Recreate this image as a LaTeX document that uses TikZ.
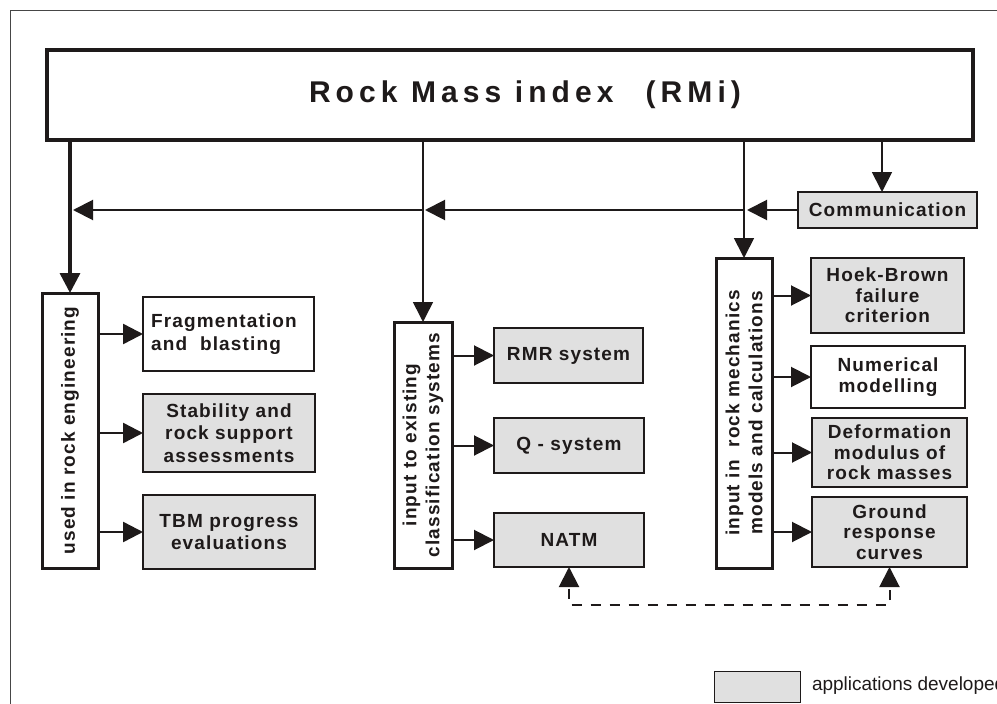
\documentclass[tikz,border=0pt]{standalone}
\usepackage{fontspec}
\setmainfont{Liberation Sans}
\newfontfamily\bx{Liberation Sans}[LetterSpace=6]
\newfontfamily\tx{Liberation Sans}[LetterSpace=17]
\usetikzlibrary{arrows.meta}
\definecolor{boxgray}{RGB}{224,224,224}
\definecolor{ink}{RGB}{30,26,26}
\definecolor{framec}{RGB}{70,70,70}
\begin{document}
\begin{tikzpicture}[x=1pt,y=-1pt,
  every node/.style={inner sep=0pt, outer sep=0pt},
  lbl/.style={font=\bx\bfseries\fontsize{19}{22.5}\selectfont, text=ink, align=center},
  box/.style={draw=ink, line width=1.5pt, rectangle, lbl},
  appbox/.style={box, fill=boxgray},
  rbox/.style={lbl, font=\bx\bfseries\fontsize{19}{20.5}\selectfont},
  vbox/.style={draw=ink, line width=3pt, fill=white, rectangle},
  vtext/.style={lbl, rotate=90, font=\bx\bfseries\fontsize{19}{23}\selectfont},
  tipA/.style={-{Triangle[length=20pt,width=20pt]}},
  conn/.style={draw=ink, line width=2pt, tipA},
]
\useasboundingbox (0,0) rectangle (997,704);
% outer frame (clipped)
\coordinate (fbl) at (10,704);
\coordinate (ftl) at (10,10);
\coordinate (ftr) at (997,10);
\draw[framec, line width=1pt] (fbl) -- (ftl) -- (ftr);

% main box
\node[draw=ink, line width=4pt, minimum width=926, minimum height=90] (rmi) at (510,95) {};
\node[font=\tx\bfseries\fontsize{30}{34}\selectfont, text=ink] (rmitext) at (525,95) {Rock Mass index\hspace{32pt}(RMi)};

% communication
\node[appbox, line width=2pt, minimum width=179, minimum height=36] (comm) at (887.5,210) {Communication};

% vertical boxes
\node[vbox, minimum width=56, minimum height=275] (used) at (70,430.5) {};
\node[vtext] (usedt) at (used.center) {used in rock engineering};
\node[vbox, minimum width=58, minimum height=246] (input) at (423,445) {};
\node[vtext] (inputt) at (input.center) {input to existing\\classification systems};
\node[vbox, minimum width=56, minimum height=310] (mech) at (744,413) {};
\node[vtext] (mecht) at (mech.center) {input in~~rock mechanics\\models and calculations};

% left column
\node[box, fill=white, minimum width=171, minimum height=74, align=left] (frag) at (228.5,334) {\hspace*{-9pt}Fragmentation\\\hspace*{-9pt}and~~blasting};
\node[appbox, minimum width=172, minimum height=78] (stab) at (229,433) {Stability and\\rock support\\assessments};
\node[appbox, minimum width=172, minimum height=74] (tbm) at (229,532) {TBM progress\\evaluations};

% middle column
\node[appbox, minimum width=149, minimum height=55] (rmr) at (568.5,355.5) {RMR system};
\node[appbox, minimum width=150, minimum height=55] (qsys) at (569,445.5) {Q - system};
\node[appbox, minimum width=150, minimum height=54] (natm) at (569,540) {NATM};

% right column
\node[appbox, rbox, minimum width=153, minimum height=75] (hb) at (887.5,295.5) {Hoek-Brown\\failure\\criterion};
\node[box, rbox, fill=white, minimum width=154, minimum height=62] (num) at (888,377) {Numerical\\modelling};
\node[appbox, rbox, minimum width=155, minimum height=69] (def) at (889.5,452.5) {Deformation\\modulus of\\rock masses};
\node[appbox, rbox, minimum width=155, minimum height=70] (grd) at (889.5,532) {Ground\\response\\curves};

% legend
\node[draw=ink, line width=1pt, fill=boxgray, minimum width=86, minimum height=31] (leg) at (757,686.5) {};
\node[anchor=west, font=\fontsize{19}{22}\selectfont, text=ink] (legt) at (812,686) {applications developed};

% connectors from main box
\draw[conn, line width=3.5pt] (rmi.south -| used) -- (used.north);
\draw[conn, line width=1.6pt] (rmi.south -| input) -- (input.north);
\draw[conn, line width=1.8pt] (rmi.south -| mech) -- (mech.north);
\coordinate (cx) at (882,210);
\draw[conn, line width=1.8pt] (rmi.south -| cx) -- (comm.north -| cx);

% horizontal feed line from communication
\coordinate (h1) at (747,210);
\coordinate (h2) at (425,210);
\coordinate (h3) at (73,210);
\draw[conn] (comm.west) -- (h1);
\draw[conn] (mech.north |- h1) -- (h2);
\draw[conn] (input.north |- h2) -- (h3);

% branch arrows
\draw[conn, line width=2.5pt] (used.east |- frag.west) -- (frag.west);
\draw[conn, line width=2.5pt] (used.east |- stab.west) -- (stab.west);
\draw[conn, line width=2.5pt] (used.east |- tbm.west) -- (tbm.west);
\draw[conn] (input.east |- rmr.west) -- (rmr.west);
\draw[conn] (input.east |- qsys.west) -- (qsys.west);
\draw[conn] (input.east |- natm.west) -- (natm.west);
\draw[conn] (mech.east |- hb.west) -- (hb.west);
\draw[conn] (mech.east |- num.west) -- (num.west);
\draw[conn] (mech.east |- def.west) -- (def.west);
\draw[conn] (mech.east |- grd.west) -- (grd.west);

% dashed link
\coordinate (dl) at (569,605);
\draw[draw=ink, line width=2pt, dash pattern=on 10pt off 9pt, dash phase=17pt,
  {Triangle[length=20pt,width=20pt]}-{Triangle[length=20pt,width=20pt]}]
  (natm.south) -- (natm.south |- dl) -| (grd.south);
\end{tikzpicture}
\end{document}
